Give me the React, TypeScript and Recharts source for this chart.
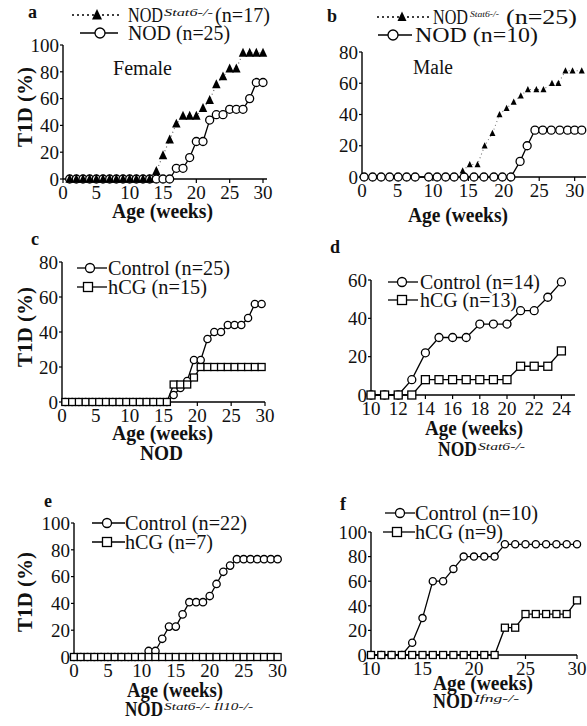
import React from 'react';
import { LineChart, Line, XAxis, YAxis } from 'recharts';

const FONT = '"Liberation Serif", "Times New Roman", serif';

// ---------- data ----------
// a: Female
const aWeeks = [1, 2, 3, 4, 5, 6, 7, 8, 9, 10, 11, 12, 13, 14, 15, 16, 17, 18, 19, 20, 21, 22, 23, 24, 25, 26, 27, 28, 29, 30];
const aStat6 = [0, 0, 0, 0, 0, 0, 0, 0, 0, 0, 0, 0, 0, 5.9, 17.6, 29.4, 41.2, 47.1, 47.1, 47.1, 52.9, 58.8, 70.6, 76.5, 82.4, 82.4, 94.1, 94.1, 94.1, 94.1];
const aNod = [0, 0, 0, 0, 0, 0, 0, 0, 0, 0, 0, 0, 0, 0, 0, 0, 8, 8, 16, 28, 28, 44, 48, 48, 52, 52, 52, 60, 72, 72];

// b: Male
const bStat6Weeks = [14.2, 15.2, 16.3, 17.3, 18.4, 19.4, 20.4, 21.4, 22.4, 23.4, 24.6, 25.6, 26.8, 27.7, 28.7, 29.7, 31];
const bStat6 = [4, 8, 8, 20, 28, 40, 44, 48, 52, 56, 56, 56, 60, 60, 68, 68, 68];
const bNodWeeks = [0.3, 1.5, 2.7, 3.9, 5.1, 6.3, 7.5, 9.4, 10.6, 11.8, 13.0, 14.4, 15.8, 17.2, 18.6, 19.8, 21.0, 22.3, 23.3, 24.4, 25.5, 26.7, 27.9, 29.0, 30.0, 31.0];
const bNod = [0, 0, 0, 0, 0, 0, 0, 0, 0, 0, 0, 0, 0, 0, 0, 0, 0, 10, 20, 30, 30, 30, 30, 30, 30, 30];

// c: NOD
const cWeeks = [0.5, 1.5, 2.5, 3.5, 4.5, 5.5, 6.5, 7.5, 8.5, 9.5, 10.5, 11.5, 12.5, 13.5, 14.5, 15.5, 16.5, 17.5, 18.5, 19.5, 20.5, 21.5, 22.5, 23.5, 24.5, 25.5, 26.5, 27.5, 28.5, 29.5];
const cControl = [0, 0, 0, 0, 0, 0, 0, 0, 0, 0, 0, 0, 0, 0, 0, 0, 4, 8, 12, 24, 24, 36, 40, 40, 44, 44, 44, 48, 56, 56];
const cHcg = [0, 0, 0, 0, 0, 0, 0, 0, 0, 0, 0, 0, 0, 0, 0, 0, 10, 10, 10, 14, 20, 20, 20, 20, 20, 20, 20, 20, 20, 20];

// d: NOD Stat6-/-
const dWeeks = [10, 11, 12, 13, 14, 15, 16, 17, 18, 19, 20, 21, 22, 23, 24];
const dControl = [0, 0, 0, 8, 22, 30, 30, 30, 37, 37, 37, 44, 44, 51, 59];
const dHcg = [0, 0, 0, 0, 8, 8, 8, 8, 8, 8, 8, 15, 15, 15, 23];

// e: NOD Stat6-/- Il10-/-
const eWeeks = [0, 1, 2, 3, 4, 5, 6, 7, 8, 9, 10, 11, 12, 13, 14, 15, 16, 17, 18, 19, 20, 21, 22, 23, 24, 25, 26, 27, 28, 29, 30];
const eControl = [0, 0, 0, 0, 0, 0, 0, 0, 0, 0, 0, 4.5, 4.5, 13.6, 22.7, 22.7, 31.8, 40.9, 40.9, 40.9, 45.5, 54.5, 63.6, 68.2, 73, 73, 73, 73, 73, 73, 73];
const eHcg = [0, 0, 0, 0, 0, 0, 0, 0, 0, 0, 0, 0, 0, 0, 0, 0, 0, 0, 0, 0, 0, 0, 0, 0, 0, 0, 0, 0, 0, 0, 0];

// f: NOD Ifng-/-
const fWeeks = [10, 11, 12, 13, 14, 15, 16, 17, 18, 19, 20, 21, 22, 23, 24, 25, 26, 27, 28, 29, 30];
const fControl = [0, 0, 0, 0, 10, 30, 60, 60, 70, 80, 80, 80, 80, 90, 90, 90, 90, 90, 90, 90, 90];
const fHcg = [0, 0, 0, 0, 0, 0, 0, 0, 0, 0, 0, 0, 0, 22.2, 22.2, 33.3, 33.3, 33.3, 33.3, 33.3, 44.4];

// tick labels
const xTicks30 = [0, 5, 10, 15, 20, 25, 30];
const xTicksD = [10, 12, 14, 16, 18, 20, 22, 24];
const xTicksF = [10, 15, 20, 25, 30];
const yTicks100 = [0, 20, 40, 60, 80, 100];
const yTicks80 = [0, 20, 40, 60, 80];
const yTicks60 = [0, 20, 40, 60];

const zip = (xs: number[], ys: number[]) => xs.map((x, i) => ({ x, y: ys[i] }));

// ---------- markers ----------
const circleDot = (r: number) => (p: any) => (
  <circle key={`c${p.index}`} cx={p.cx} cy={p.cy} r={r} fill="#fff" stroke="#000" strokeWidth={1.3} />
);
const squareDot = (s: number) => (p: any) => (
  <rect key={`s${p.index}`} x={p.cx - s / 2} y={p.cy - s / 2} width={s} height={s} fill="#fff" stroke="#000" strokeWidth={1.3} />
);
const triDot = (s: number) => (p: any) => (
  <polygon
    key={`t${p.index}`}
    points={`${p.cx},${p.cy - s * 0.6} ${p.cx - s / 2},${p.cy + s * 0.45} ${p.cx + s / 2},${p.cy + s * 0.45}`}
    fill="#000"
  />
);

// ---------- panel ----------
const YW = 50;
const TOP = 14;
const RIGHT = 14;
const XH = 30;

function Panel(props: any) {
  const { x0, x1, y0, y1, xDomain, xTicks, yDomain, yTicks, children } = props;
  const w = YW + (x1 - x0) + RIGHT;
  const h = TOP + (y1 - y0) + XH;
  const tick = { fontFamily: FONT, fontSize: 19, fill: '#111', style: { fontFamily: FONT } };
  return (
    <div style={{ position: 'absolute', left: x0 - YW, top: y0 - TOP }}>
      <LineChart width={w} height={h} margin={{ top: TOP, right: RIGHT, left: 0, bottom: 0 }}>
        <XAxis
          type="number"
          dataKey="x"
          domain={xDomain}
          ticks={xTicks}
          interval={0}
          height={XH}
          tick={tick}
          tickSize={4}
          tickMargin={3}
          axisLine={{ stroke: '#000', strokeWidth: 1.4 }}
          tickLine={{ stroke: '#000', strokeWidth: 1.2 }}
        />
        <YAxis
          type="number"
          dataKey="y"
          domain={yDomain}
          ticks={yTicks}
          interval={0}
          width={YW}
          tick={tick}
          tickSize={3}
          tickMargin={1}
          axisLine={{ stroke: '#000', strokeWidth: 1.4 }}
          tickLine={{ stroke: '#000', strokeWidth: 1.2 }}
        />
        {children}
      </LineChart>
    </div>
  );
}

// ---------- overlay text helpers ----------
function Txt(p: any) {
  const s = p.s ?? 20;
  return (
    <text
      x={p.x}
      y={p.cy + s * 0.33}
      fontSize={s}
      fontWeight={p.bold ? 700 : 400}
      fontStyle={p.italic ? 'italic' : 'normal'}
      textLength={p.w}
      lengthAdjust="spacingAndGlyphs"
      fill="#111"
    >
      {p.children}
    </text>
  );
}
function Sup(p: any) {
  const s = p.s ?? 10;
  return (
    <text
      x={p.x}
      y={p.cy - 6.6 + s * 0.72}
      fontSize={s}
      fontStyle="italic"
      textLength={p.w}
      lengthAdjust="spacingAndGlyphs"
      fill="#111"
    >
      {p.children}
    </text>
  );
}
function YLabel(p: any) {
  return (
    <text
      x={p.cx}
      y={p.cy + 6.6}
      transform={`rotate(-90, ${p.cx}, ${p.cy})`}
      fontSize={20}
      fontWeight={700}
      textAnchor="middle"
      textLength={80}
      lengthAdjust="spacingAndGlyphs"
      fill="#111"
    >
      T1D (%)
    </text>
  );
}
const LCircle = ({ x1, x2, cx, cy, r = 4.5 }: any) => (
  <g>
    <line x1={x1} x2={x2} y1={cy} y2={cy} stroke="#000" strokeWidth={1.3} />
    <circle cx={cx} cy={cy} r={r} fill="#fff" stroke="#000" strokeWidth={1.3} />
  </g>
);
const LSquare = ({ x1, x2, cx, cy, s = 9 }: any) => (
  <g>
    <line x1={x1} x2={x2} y1={cy} y2={cy} stroke="#000" strokeWidth={1.3} />
    <rect x={cx - s / 2} y={cy - s / 2} width={s} height={s} fill="#fff" stroke="#000" strokeWidth={1.3} />
  </g>
);
const LTri = ({ x1, x2, cx, cy, s = 9 }: any) => (
  <g>
    <line x1={x1} x2={x2} y1={cy} y2={cy} stroke="#000" strokeWidth={1.5} strokeDasharray="2 3" />
    <polygon points={`${cx},${cy - s * 0.6} ${cx - s / 2},${cy + s * 0.45} ${cx + s / 2},${cy + s * 0.45}`} fill="#000" />
  </g>
);

const common = { type: 'linear' as const, dataKey: 'y', isAnimationActive: false, activeDot: false, legendType: 'none' as const };

export default function App() {
  return (
    <div style={{ position: 'absolute', left: 0, top: 0, width: 587, height: 726, overflow: 'hidden', background: '#fff', fontFamily: FONT }}>
      {/* a */}
      <Panel x0={63} x1={267} y0={45} y1={179} xDomain={[0, 30.6]} xTicks={xTicks30} yDomain={[0, 100]} yTicks={yTicks100}>
        <Line {...common} data={zip(aWeeks, aNod)} stroke="#000" strokeWidth={1.3} dot={circleDot(4)} />
        <Line {...common} data={zip(aWeeks, aStat6)} stroke="#666" strokeWidth={1.2} strokeDasharray="1 3" dot={triDot(8.5)} />
      </Panel>
      {/* b */}
      <Panel x0={362} x1={586} y0={52} y1={177} xDomain={[0, 31.6]} xTicks={xTicks30} yDomain={[0, 80]} yTicks={yTicks80}>
        <Line {...common} data={zip(bNodWeeks, bNod)} stroke="#000" strokeWidth={1.3} dot={circleDot(4)} />
        <Line {...common} data={zip(bStat6Weeks, bStat6)} stroke="#777" strokeWidth={1.1} strokeDasharray="1 3" dot={triDot(6)} />
      </Panel>
      {/* c */}
      <Panel x0={62} x1={265} y0={262} y1={402} xDomain={[0, 30]} xTicks={xTicks30} yDomain={[0, 80]} yTicks={yTicks80}>
        <Line {...common} data={zip(cWeeks, cControl)} stroke="#000" strokeWidth={1.3} dot={circleDot(3.6)} />
        <Line {...common} data={zip(cWeeks, cHcg)} stroke="#000" strokeWidth={1.3} dot={squareDot(7)} />
      </Panel>
      {/* d */}
      <Panel x0={371} x1={575} y0={280} y1={395} xDomain={[10, 25]} xTicks={xTicksD} yDomain={[0, 60]} yTicks={yTicks60}>
        <Line {...common} data={zip(dWeeks, dControl)} stroke="#000" strokeWidth={1.3} dot={circleDot(4)} />
        <Line {...common} data={zip(dWeeks, dHcg)} stroke="#000" strokeWidth={1.3} dot={squareDot(8)} />
      </Panel>
      {/* e */}
      <Panel x0={74} x1={281} y0={522.5} y1={656.5} xDomain={[0, 30.5]} xTicks={xTicks30} yDomain={[0, 100]} yTicks={yTicks100}>
        <Line {...common} data={zip(eWeeks, eControl)} stroke="#000" strokeWidth={1.3} dot={circleDot(3.7)} />
        <Line {...common} data={zip(eWeeks, eHcg)} stroke="#000" strokeWidth={1.3} dot={squareDot(7)} />
      </Panel>
      {/* f */}
      <Panel x0={371} x1={577} y0={531.5} y1={654.5} xDomain={[10, 30]} xTicks={xTicksF} yDomain={[0, 100]} yTicks={yTicks100}>
        <Line {...common} data={zip(fWeeks, fControl)} stroke="#000" strokeWidth={1.3} dot={circleDot(3.6)} />
        <Line {...common} data={zip(fWeeks, fHcg)} stroke="#000" strokeWidth={1.3} dot={squareDot(7)} />
      </Panel>

      <svg width={587} height={726} style={{ position: 'absolute', left: 0, top: 0, pointerEvents: 'none' }} fontFamily={FONT}>
        {/* panel letters */}
        <text x={28} y={18} fontSize={18} fontWeight={700} fill="#111">a</text>
        <text x={327} y={22} fontSize={18} fontWeight={700} fill="#111">b</text>
        <text x={31} y={245} fontSize={18} fontWeight={700} fill="#111">c</text>
        <text x={330} y={253} fontSize={18} fontWeight={700} fill="#111">d</text>
        <text x={44} y={507} fontSize={18} fontWeight={700} fill="#111">e</text>
        <text x={340} y={510} fontSize={18} fontWeight={700} fill="#111">f</text>

        {/* a legend */}
        <LTri x1={72} x2={120} cx={97} cy={15} s={10} />
        <Txt x={128} cy={15} w={35}>NOD</Txt>
        <Sup x={164} cy={15} w={49} s={10}>Stat6-/-</Sup>
        <Txt x={215} cy={15} w={55}>(n=17)</Txt>
        <LCircle x1={80} x2={118} cx={100} cy={33} r={5} />
        <Txt x={128} cy={33} w={102}>NOD (n=25)</Txt>
        <Txt x={113} cy={68} w={59}>Female</Txt>
        <YLabel cx={25} cy={107} />
        <Txt x={112} cy={211} w={101} bold>Age (weeks)</Txt>

        {/* b legend */}
        <LTri x1={377} x2={430} cx={402} cy={17} s={9} />
        <Txt x={433} cy={17} w={35}>NOD</Txt>
        <Sup x={470} cy={17} w={29} s={9}>Stat6-/-</Sup>
        <Txt x={506} cy={17} w={71}>(n=25)</Txt>
        <LCircle x1={378} x2={412} cx={393} cy={35} r={5} />
        <Txt x={415} cy={35} w={123}>NOD (n=10)</Txt>
        <Txt x={413} cy={67} w={40}>Male</Txt>
        <Txt x={408} cy={215} w={100} bold>Age (weeks)</Txt>

        {/* c legend */}
        <LCircle x1={77} x2={107} cx={90} cy={268} r={4.5} />
        <Txt x={108} cy={268} w={122}>Control (n=25)</Txt>
        <LSquare x1={77} x2={107} cx={88} cy={287} s={9} />
        <Txt x={108} cy={287} w={99}>hCG (n=15)</Txt>
        <YLabel cx={25} cy={327} />
        <Txt x={112} cy={433} w={101} bold>Age (weeks)</Txt>
        <Txt x={140} cy={453} w={43} bold>NOD</Txt>

        {/* d legend */}
        <LCircle x1={388} x2={418} cx={402} cy={282} r={4.5} />
        <Txt x={420} cy={282} w={120}>Control (n=14)</Txt>
        <LSquare x1={388} x2={418} cx={402} cy={300} s={9} />
        <Txt x={420} cy={300} w={97}>hCG (n=13)</Txt>
        <Txt x={425} cy={428} w={98} bold>Age (weeks)</Txt>
        <Txt x={438} cy={449} w={39} bold>NOD</Txt>
        <Sup x={478} cy={449} w={47} s={10}>Stat6-/-</Sup>

        {/* e legend */}
        <LCircle x1={92} x2={125} cx={107} cy={523} r={4.5} />
        <Txt x={125} cy={523} w={122}>Control (n=22)</Txt>
        <LSquare x1={92} x2={125} cx={107} cy={542} s={9} />
        <Txt x={125} cy={542} w={88}>hCG (n=7)</Txt>
        <YLabel cx={25} cy={592} />
        <Txt x={127} cy={690} w={96} bold>Age (weeks)</Txt>
        <Txt x={125} cy={709} w={38} bold>NOD</Txt>
        <Sup x={164} cy={709} w={89} s={10}>Stat6-/- Il10-/-</Sup>

        {/* f legend */}
        <LCircle x1={385} x2={415} cx={400} cy={513} r={4.5} />
        <Txt x={415} cy={513} w={123}>Control (n=10)</Txt>
        <LSquare x1={383} x2={415} cx={397} cy={532} s={9} />
        <Txt x={415} cy={532} w={88}>hCG (n=9)</Txt>
        <Txt x={433} cy={683} w={100} bold>Age (weeks)</Txt>
        <Txt x={433} cy={701} w={40} bold>NOD</Txt>
        <Sup x={474} cy={701} w={45} s={10}>Ifng-/-</Sup>
      </svg>
    </div>
  );
}
